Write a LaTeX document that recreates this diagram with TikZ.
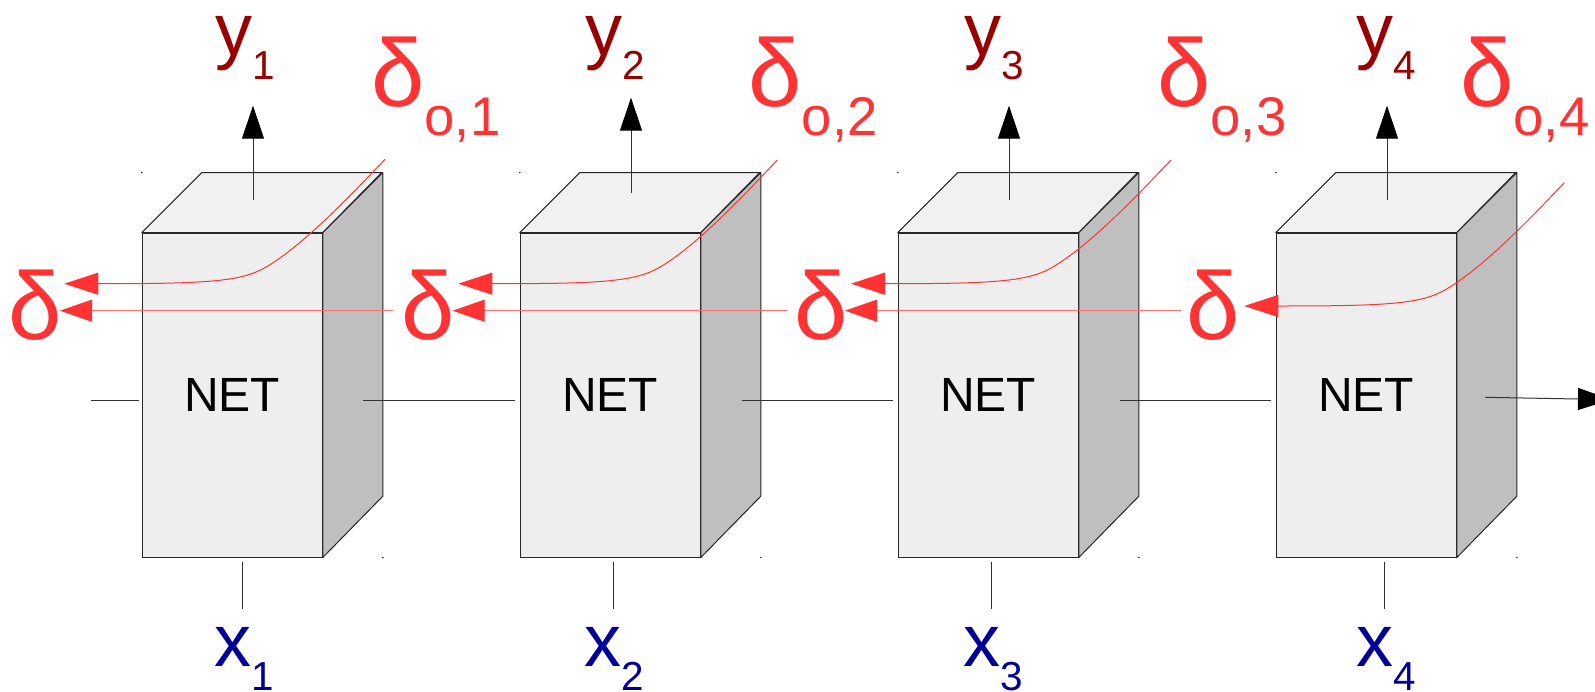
\documentclass[tikz,border=0pt]{standalone}
\usepackage{fontspec}
\setmainfont{Liberation Sans}
\usetikzlibrary{arrows.meta}
\definecolor{dred}{RGB}{255,51,51}
\definecolor{lred}{RGB}{255,110,110}
\definecolor{ydark}{RGB}{153,0,0}
\definecolor{xblue}{RGB}{0,0,153}
\definecolor{faceF}{RGB}{238,238,238}
\definecolor{faceT}{RGB}{241,241,241}
\definecolor{faceS}{RGB}{191,191,191}
\newcommand\fbig{\fontsize{74pt}{74pt}\selectfont}
\newcommand\fdel{\fontsize{96pt}{96pt}\selectfont}
\newcommand\fnet{\fontsize{48pt}{48pt}\selectfont}
\newcommand\lsub[1]{\raisebox{-24pt}{\fontsize{40.5pt}{40pt}\selectfont #1}}
\newcommand\dsub[1]{\raisebox{-29.3pt}{\fontsize{54.5pt}{54pt}\selectfont #1}}
\begin{document}
\begin{tikzpicture}[x=1pt,y=-1pt,
  front/.style={draw=black!85, fill=faceF, line width=1pt, minimum width=180pt,
    minimum height=324pt, inner sep=0pt, font=\fnet},
  topface/.style={draw=black!85, fill=faceT, line width=1pt, line join=round},
  sideface/.style={draw=black!85, fill=faceS, line width=1pt, line join=round},
  wire/.style={draw=black!80, line width=1pt},
  outarr/.style={wire, -{Triangle[length=33pt,width=22pt,color=black]}},
  lbl/.style={anchor=base west, inner sep=0pt},
  ylab/.style={lbl, text=ydark, font=\fbig},
  xlab/.style={lbl, text=xblue, font=\fbig},
  dlab/.style={lbl, text=dred, font=\fdel},
  rcurve/.style={draw=dred, line width=1pt, -{Triangle[length=34pt,width=22pt,color=dred]}},
  rline/.style={draw=lred, line width=1.2pt, -{Triangle[length=32pt,width=22pt,color=dred]}},
  speck/.style={fill=black}
]
\useasboundingbox (0,0) rectangle (1595,691);

% boxes
\foreach \i/\cx in {1/232.3,2/610.3,3/988.3,4/1366.3}{
  \node[front] (n\i) at (\cx,395) {NET};
  \draw[topface] (n\i.north west) -- ++(60,-60) -- ++(180,0) -- (n\i.north east) -- cycle;
  \draw[sideface] (n\i.north east) -- ++(60,-60) -- ++(0,323.7) -- (n\i.south east) -- cycle;
  \fill[speck] ([yshift=60pt]n\i.north west) circle (0.8);
  \fill[speck] ([xshift=60pt]n\i.south east) circle (0.8);
}

% horizontal wires
\coordinate (i0) at (91,400);
\coordinate (o1) at (363.3,400);
\coordinate (o2) at (741.7,400);
\coordinate (o3) at (1120,400);
\coordinate (o4) at (1485.3,397.3);
\coordinate (out) at (1611,399.6);
\draw[wire, shorten >=3.3pt] (i0) -- (i0 -| n1.west);
\draw[wire, shorten >=4.5pt] (o1) -- (o1 -| n2.west);
\draw[wire, shorten >=4.5pt] (o2) -- (o2 -| n3.west);
\draw[wire, shorten >=4.5pt] (o3) -- (o3 -| n4.west);
\draw[outarr] (o4) -- (out);

% labels y
\node[ylab] (y1) at (215,55.5) {y\lsub{1}};
\node[ylab] (y2) at (585.7,55.5) {y\lsub{2}};
\node[ylab] (y3) at (964,55.5) {y\lsub{3}};
\node[ylab] (y4) at (1356,55.5) {y\lsub{4}};
% labels x
\node[xlab] (x1) at (214.5,666.7) {x\lsub{1}};
\node[xlab] (x2) at (584.5,666.7) {x\lsub{2}};
\node[xlab] (x3) at (962.8,666.7) {x\lsub{3}};
\node[xlab] (x4) at (1356.2,666.7) {x\lsub{4}};

% y arrows
\coordinate (ya1) at (253,200);  \coordinate (yb1) at (253,105.7);
\coordinate (ya2) at (631,192.7);  \coordinate (yb2) at (631,97.7);
\coordinate (ya3) at (1009,200); \coordinate (yb3) at (1009,105.7);
\coordinate (ya4) at (1387,200); \coordinate (yb4) at (1387,105.7);
\foreach \i in {1,2,3,4}{ \draw[outarr] (ya\i) -- (yb\i); }

% x lines
\coordinate (xa1) at (242.7,562); \coordinate (xb1) at (242.7,609.3);
\coordinate (xa2) at (613.3,562); \coordinate (xb2) at (613.3,609.3);
\coordinate (xa3) at (991.3,562); \coordinate (xb3) at (991.3,609.3);
\coordinate (xa4) at (1384.3,562); \coordinate (xb4) at (1384.3,609.3);
\foreach \i in {1,2,3,4}{ \draw[wire] (xa\i) -- (xb\i); }

% delta labels
\node[dlab] (d1) at (8,339) {δ};
\node[dlab] (d2) at (401,339) {δ};
\node[dlab] (d3) at (794.3,339) {δ};
\node[dlab] (d4) at (1186.7,339) {δ};
\node[dlab] (do1) at (371,106) {δ\dsub{o,1}};
\node[dlab] (do2) at (748.3,106) {δ\dsub{o,2}};
\node[dlab] (do3) at (1157,106) {δ\dsub{o,3}};
\node[dlab] (do4) at (1460,106) {δ\dsub{o,4}};

% red curves (delta_o -> delta)
\coordinate (e1) at (385,159.3);   \coordinate (s1) at (98.3,283.7);  \coordinate (t1) at (64.3,283.7);
\coordinate (e2) at (777.3,160);   \coordinate (s2) at (492.3,283.7); \coordinate (t2) at (458.3,283.7);
\coordinate (e3) at (1171,160);    \coordinate (s3) at (885,283.7);   \coordinate (t3) at (851,283.7);
\coordinate (e4) at (1564.3,182.7);\coordinate (s4) at (1278.3,306);  \coordinate (t4) at (1244.3,306);
\foreach \i in {1,2,3,4}{
  \coordinate (k\i) at ([shift={(168.4,-17)}]s\i);
  \draw[rcurve] (e\i) .. controls ([shift={(-40,42.4)}]e\i) and ([shift={(35,-21)}]k\i) .. (k\i)
     .. controls ([shift={(-25,15)}]k\i) and ([shift={(110,0)}]s\i) .. (s\i) -- (t\i);
}
% red straight lines (delta_{k+1} -> delta_k)
\coordinate (ls1) at (393.3,310.7);  \coordinate (lt1) at (60,310.7);
\coordinate (ls2) at (786.7,310.7);  \coordinate (lt2) at (452.7,310.7);
\coordinate (ls3) at (1180.7,310.7); \coordinate (lt3) at (845,310.7);
\foreach \i in {1,2,3}{ \draw[rline] (ls\i) -- (lt\i); }
\end{tikzpicture}
\end{document}
